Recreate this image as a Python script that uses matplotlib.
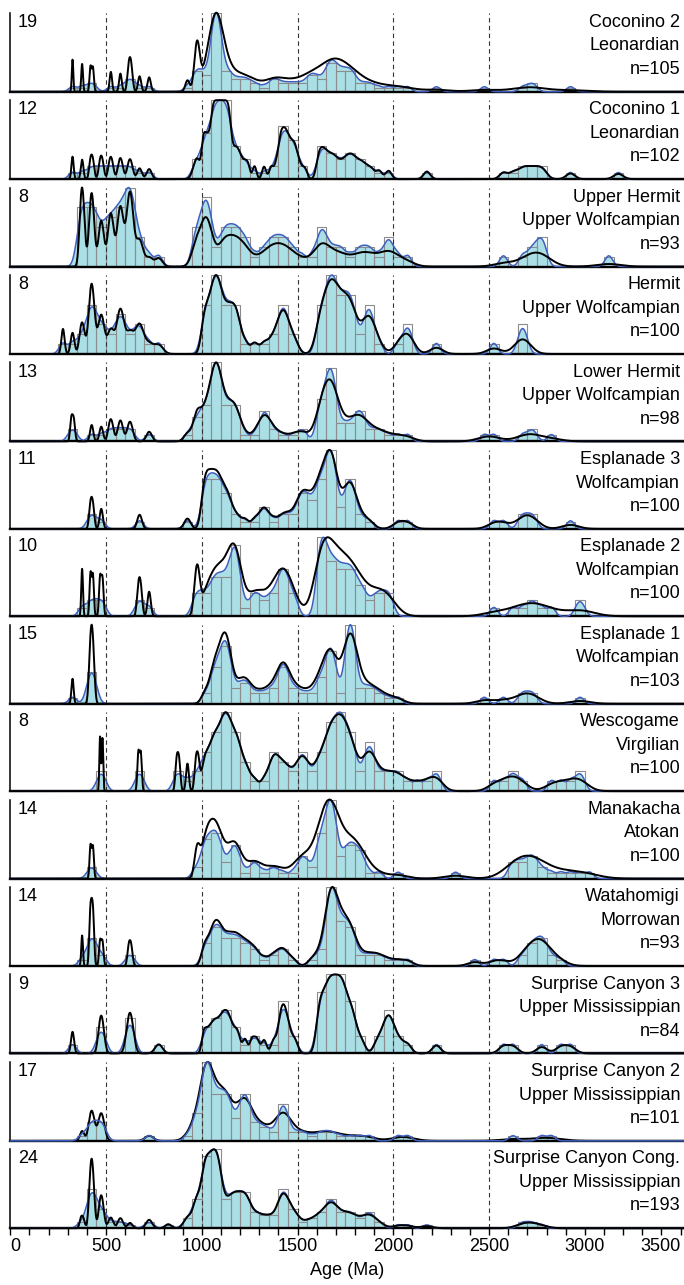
import matplotlib
matplotlib.use("Agg")
import matplotlib.pyplot as plt
import numpy as np

plt.rcParams['font.family'] = ['Liberation Sans', 'DejaVu Sans']

# histogram counts per 50 Ma bin (key = bin start, Ma)
coconino2 = {300: 1, 350: 1, 400: 2, 500: 1, 550: 1, 600: 3, 650: 1, 700: 1, 900: 1,
             950: 5, 1000: 4, 1050: 19, 1100: 5, 1150: 3, 1200: 3, 1250: 2, 1300: 1,
             1350: 3, 1400: 2, 1450: 2, 1500: 2, 1550: 4, 1600: 3, 1650: 7, 1700: 5,
             1750: 5, 1800: 2, 1850: 2, 1900: 1, 1950: 1, 2000: 1, 2050: 1, 2200: 1,
             2450: 1, 2650: 1, 2700: 2, 2900: 1}
coconino1 = {300: 1, 350: 1, 400: 2, 450: 2, 500: 2, 550: 2, 600: 2, 650: 1, 700: 1,
             950: 3, 1000: 7, 1050: 12, 1100: 12, 1150: 5, 1200: 3, 1250: 1, 1300: 1,
             1350: 2, 1400: 8, 1450: 6, 1500: 2, 1600: 5, 1650: 4, 1700: 3, 1750: 4,
             1800: 3, 1850: 2, 1900: 1, 1950: 1, 2150: 1, 2550: 1, 2600: 1, 2650: 2,
             2700: 2, 2750: 2, 2900: 1, 3150: 1}
upper_hermit = {350: 6, 400: 6, 450: 4, 500: 5, 550: 6, 600: 8, 650: 3, 700: 1, 750: 1,
                950: 4, 1000: 7, 1050: 2, 1100: 4, 1150: 4, 1200: 3, 1250: 1, 1300: 2,
                1350: 3, 1400: 3, 1450: 2, 1500: 1, 1550: 1, 1600: 4, 1650: 2, 1700: 2,
                1750: 1, 1800: 2, 1850: 2, 1900: 1, 1950: 3, 2000: 1, 2050: 1, 2550: 1,
                2650: 1, 2700: 2, 2750: 3, 3100: 1}
hermit = {250: 1, 300: 1, 350: 2, 400: 5, 450: 3, 500: 2, 550: 4, 600: 2, 650: 3, 700: 1,
          750: 1, 1000: 5, 1050: 8, 1100: 5, 1150: 5, 1200: 1, 1250: 1, 1300: 1, 1350: 2,
          1400: 5, 1450: 2, 1600: 5, 1650: 8, 1700: 6, 1750: 6, 1800: 2, 1850: 5, 1900: 1,
          2000: 1, 2050: 3, 2200: 1, 2500: 1, 2650: 3}
lower_hermit = {300: 2, 400: 1, 450: 1, 500: 2, 550: 2, 600: 2, 700: 1, 900: 1, 950: 4,
                1000: 6, 1050: 13, 1100: 6, 1150: 6, 1200: 1, 1250: 1, 1300: 5, 1350: 2,
                1400: 1, 1450: 1, 1500: 2, 1600: 7, 1650: 12, 1700: 3, 1750: 3, 1800: 5,
                1850: 2, 1900: 2, 1950: 1, 2000: 1, 2050: 1, 2450: 1, 2500: 1, 2650: 1,
                2700: 2, 2800: 1}
esplanade3 = {400: 2, 450: 1, 650: 1, 900: 1, 1000: 7, 1050: 7, 1100: 5, 1150: 2, 1200: 1,
              1250: 1, 1300: 3, 1350: 1, 1400: 2, 1450: 2, 1500: 5, 1550: 4, 1600: 7,
              1650: 11, 1700: 3, 1750: 7, 1800: 2, 1850: 1, 2000: 1, 2050: 1, 2500: 1,
              2550: 1, 2650: 2, 2700: 2, 2900: 1}
esplanade2 = {350: 1, 400: 2, 450: 2, 650: 2, 700: 1, 950: 3, 1000: 3, 1050: 5, 1100: 5,
              1150: 9, 1200: 1, 1250: 3, 1300: 2, 1350: 3, 1400: 6, 1450: 3, 1600: 10,
              1650: 7, 1700: 6, 1750: 6, 1800: 4, 1850: 2, 1900: 3, 1950: 3, 2500: 1,
              2600: 1, 2650: 1, 2700: 2, 2750: 1, 2800: 1, 2950: 2}
esplanade1 = {300: 1, 400: 6, 1000: 2, 1050: 7, 1100: 11, 1150: 3, 1200: 4, 1250: 2,
              1300: 2, 1350: 3, 1400: 7, 1450: 3, 1500: 2, 1550: 2, 1600: 5, 1650: 10,
              1700: 2, 1750: 15, 1800: 3, 1850: 3, 1900: 2, 1950: 1, 2000: 1, 2450: 1,
              2550: 1, 2650: 2, 2700: 2, 2950: 1}
wescogame = {450: 2, 650: 2, 850: 2, 900: 1, 950: 2, 1000: 4, 1050: 6, 1100: 8, 1150: 6,
             1200: 3, 1250: 1, 1300: 1, 1350: 4, 1400: 3, 1450: 2, 1500: 4, 1550: 2,
             1600: 4, 1650: 7, 1700: 8, 1750: 6, 1800: 2, 1850: 5, 1900: 2, 1950: 2,
             2000: 2, 2050: 1, 2100: 1, 2150: 1, 2200: 2, 2500: 1, 2550: 1, 2600: 2,
             2650: 1, 2800: 1, 2850: 1, 2900: 1, 2950: 2}
manakacha = {400: 2, 950: 2, 1000: 7, 1050: 8, 1100: 3, 1150: 6, 1200: 1, 1250: 3, 1300: 1,
             1350: 2, 1400: 1, 1450: 1, 1500: 4, 1550: 2, 1600: 8, 1650: 14, 1700: 4,
             1750: 6, 1800: 5, 1850: 1, 1900: 1, 2000: 1, 2300: 1, 2600: 3, 2650: 3,
             2700: 4, 2750: 2, 2800: 1, 2850: 1, 2900: 1, 2950: 1, 3000: 1}
watahomigi = {350: 1, 400: 5, 450: 2, 600: 2, 1000: 4, 1050: 7, 1100: 5, 1150: 5, 1200: 4,
              1250: 3, 1300: 1, 1350: 2, 1400: 3, 1450: 1, 1550: 1, 1600: 3, 1650: 14,
              1700: 8, 1750: 7, 1800: 2, 1850: 2, 1900: 2, 1950: 1, 2000: 1, 2050: 1,
              2400: 1, 2500: 1, 2550: 1, 2650: 2, 2700: 4, 2750: 5, 2800: 2, 2850: 1}
surprise3 = {300: 1, 450: 3, 600: 4, 750: 1, 1000: 3, 1050: 4, 1100: 5, 1150: 3, 1200: 1,
             1250: 2, 1300: 1, 1350: 1, 1400: 6, 1450: 2, 1600: 7, 1650: 9, 1700: 9,
             1750: 6, 1800: 2, 1900: 2, 1950: 5, 2000: 2, 2050: 1, 2200: 1, 2550: 1,
             2600: 1, 2750: 1, 2850: 1, 2900: 1}
surprise2 = {350: 1, 400: 4, 450: 4, 700: 1, 900: 1, 950: 6, 1000: 17, 1050: 10, 1100: 10,
             1150: 5, 1200: 10, 1250: 4, 1300: 3, 1350: 2, 1400: 8, 1450: 2, 1500: 2,
             1550: 1, 1600: 2, 1650: 2, 1700: 1, 1750: 1, 1800: 1, 1850: 1, 2000: 1,
             2050: 1, 2600: 1, 2750: 1, 2800: 1}
surprise_cong = {350: 2, 400: 12, 450: 6, 500: 2, 550: 2, 600: 1, 700: 2, 800: 1, 900: 3,
                 950: 9, 1000: 22, 1050: 24, 1100: 9, 1150: 11, 1200: 11, 1250: 5, 1300: 4,
                 1350: 4, 1400: 12, 1450: 6, 1500: 2, 1550: 3, 1600: 5, 1650: 9, 1700: 5,
                 1750: 5, 1800: 3, 1850: 5, 1900: 2, 2000: 1, 2050: 1, 2150: 1, 2650: 2,
                 2700: 2, 2750: 1}

units = ["Coconino 2", "Coconino 1", "Upper Hermit", "Hermit", "Lower Hermit",
         "Esplanade 3", "Esplanade 2", "Esplanade 1", "Wescogame", "Manakacha",
         "Watahomigi", "Surprise Canyon 3", "Surprise Canyon 2", "Surprise Canyon Cong."]
stages = ["Leonardian", "Leonardian", "Upper Wolfcampian", "Upper Wolfcampian",
          "Upper Wolfcampian", "Wolfcampian", "Wolfcampian", "Wolfcampian", "Virgilian",
          "Atokan", "Morrowan", "Upper Mississippian", "Upper Mississippian",
          "Upper Mississippian"]
n_grains = [105, 102, 93, 100, 98, 100, 100, 103, 100, 100, 93, 84, 101, 193]
histograms = [coconino2, coconino1, upper_hermit, hermit, lower_hermit, esplanade3,
              esplanade2, esplanade1, wescogame, manakacha, watahomigi, surprise3,
              surprise2, surprise_cong]
# relative 1-sigma age uncertainties used for the probability density plot
young_error = [0.012, 0.018, 0.025, 0.03, 0.02, 0.018, 0.012, 0.018, 0.008, 0.012, 0.012,
               0.025, 0.03, 0.02]   # grains < 1000 Ma
old_error = [0.03, 0.008, 0.02, 0.015, 0.02, 0.015, 0.025, 0.018, 0.015, 0.025, 0.015,
             0.01, 0.025, 0.015]    # grains >= 1000 Ma

BIN = 50
KDE_BW = 20
x = np.arange(0, 3516, 1.0)

W, H = 684, 1285
fig = plt.figure(figsize=(W / 100, H / 100), dpi=100)

left_px, right_px = 10.3, 683.5
base0, step, ph = 91.7, 87.43, 79

for i, hist in enumerate(histograms):
    bottom_px = base0 + i * step
    ax = fig.add_axes([left_px / W, 1 - bottom_px / H, (right_px - left_px) / W, ph / H])

    starts = np.array(sorted(hist))
    counts = np.array([hist[s] for s in starts])
    frac = [(np.arange(c) + 0.5) / c for c in counts]
    ages = np.concatenate([s + BIN * f for s, f in zip(starts, frac)])
    # young grains sit closer together inside their bin for the PDP
    pdp_ages = np.concatenate([s + BIN * (0.5 + (f - 0.5) * (0.5 if s < 1000 else 1.0))
                               for s, f in zip(starts, frac)])
    ymax = counts.max()

    kde = np.exp(-0.5 * ((x[:, None] - ages[None, :]) / KDE_BW) ** 2).sum(axis=1)
    kde = kde / kde.max() * ymax

    sig = np.where(pdp_ages < 1000, young_error[i], old_error[i]) * pdp_ages
    pdp = (np.exp(-0.5 * ((x[:, None] - pdp_ages[None, :]) / sig[None, :]) ** 2)
           / sig).sum(axis=1)
    pdp = pdp / pdp.max() * ymax

    ax.fill_between(x, kde, color='#abdfe6', lw=0, zorder=1)
    ax.bar(starts, counts, width=BIN, align='edge', fill=False, edgecolor='#8c8c8c',
           linewidth=0.8, zorder=2)
    for d in range(500, 3000, 500):
        ax.axvline(d, color='#333333', lw=0.8, dashes=(4, 3), zorder=2.2)
    blue_z = 5 if units[i] == "Surprise Canyon 2" else 3
    ax.plot(x, kde, color='#3f5fbf', lw=1.1, zorder=blue_z, clip_on=False)
    ax.plot(x, pdp, color='black', lw=1.4, zorder=4, clip_on=False)

    ax.set_xlim(0, 3515)
    ax.set_ylim(0, ymax)
    for s in ['top', 'right']:
        ax.spines[s].set_visible(False)
    ax.spines['left'].set_linewidth(1.1)
    ax.spines['bottom'].set_linewidth(1.7)
    ax.set_yticks([])

    ax.text(0.0115, 0.985, str(ymax), transform=ax.transAxes, ha='left', va='top',
            fontsize=13)
    ax.text(0.995, 0.985, f"{units[i]}\n{stages[i]}\nn={n_grains[i]}",
            transform=ax.transAxes, ha='right', va='top', fontsize=13, linespacing=1.5)

    if i == len(histograms) - 1:
        ax.set_xticks(range(0, 3501, 500))
        ax.set_xticks(range(0, 3501, 100), minor=True)
        ax.tick_params(axis='x', which='both', direction='out', length=5, width=1,
                       labelsize=13, pad=2)
        labels = ax.get_xticklabels()
        labels[0].set_horizontalalignment('left')
        labels[-1].set_horizontalalignment('right')
        ax.set_xlabel('Age (Ma)', fontsize=13, labelpad=5)
    else:
        ax.set_xticks([])

fig.savefig('out.png', dpi=100)
